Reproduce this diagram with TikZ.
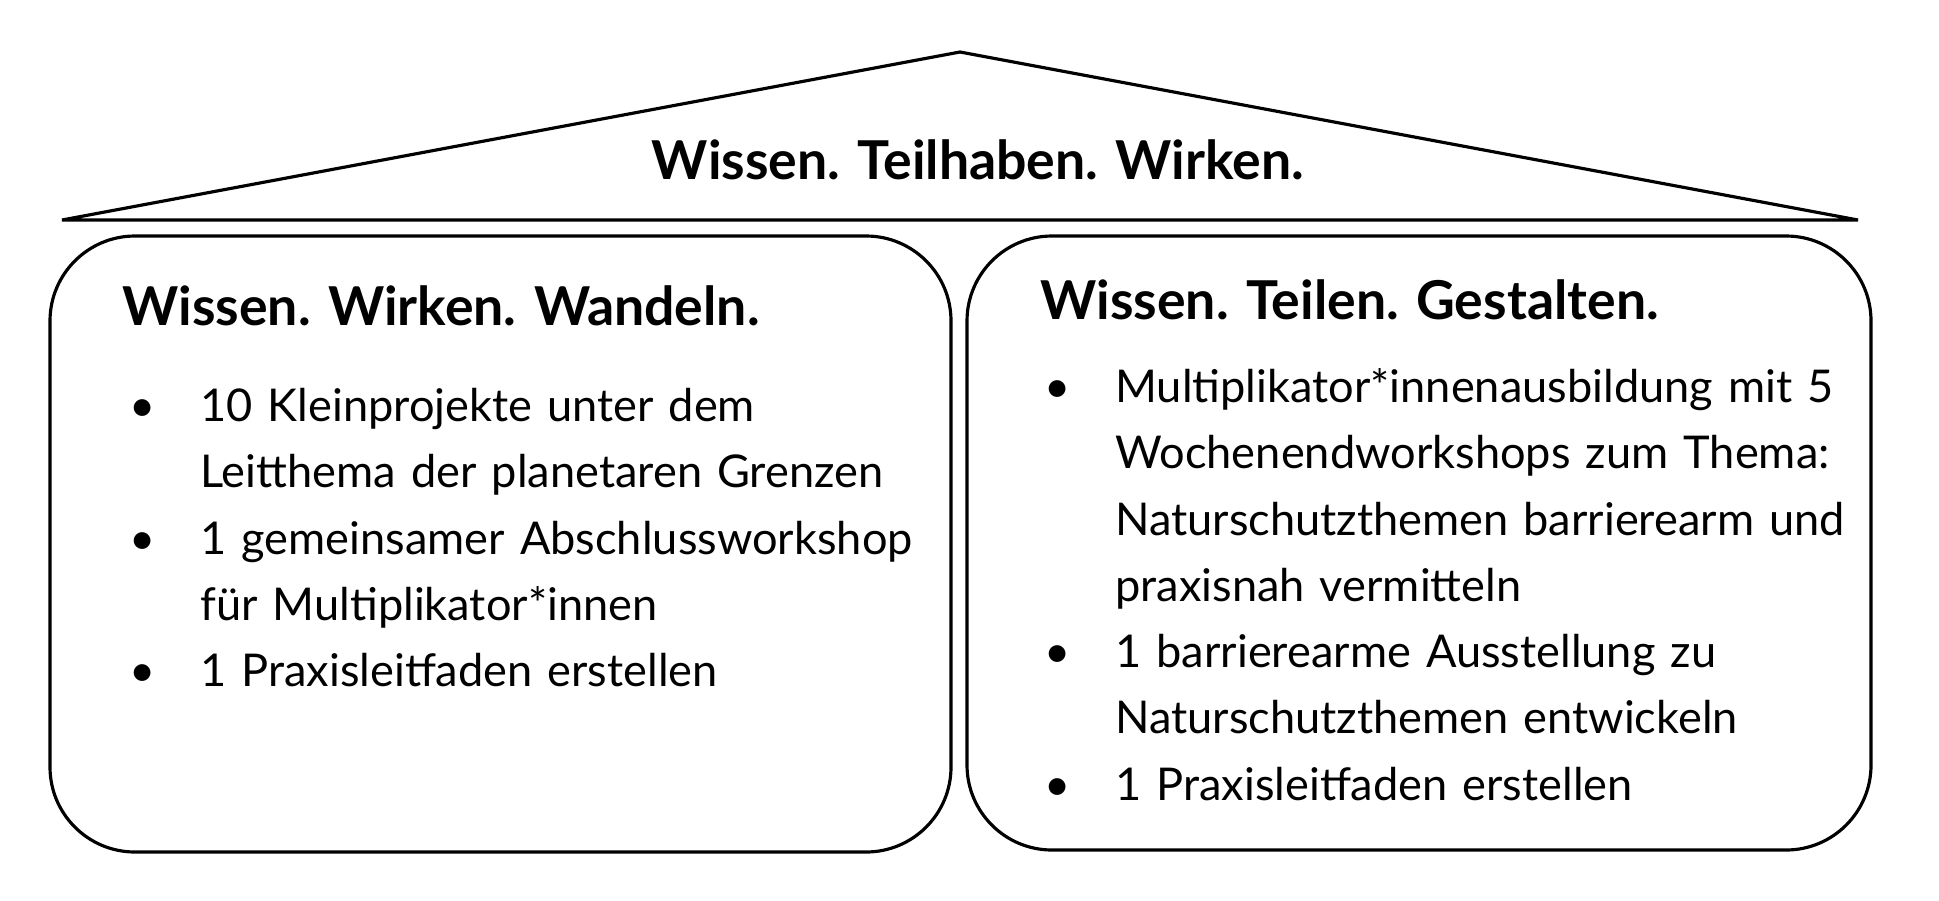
\documentclass[tikz,border=0pt]{standalone}
\usepackage{fontspec}
\setmainfont{Lato}
\usetikzlibrary{positioning}
\setlength{\parindent}{0pt}

% Schriften
\newcommand{\boxfont}{\fontsize{25.7}{37.7}\selectfont}
\newcommand{\headfont}{\fontsize{30.5}{36}\selectfont\bfseries}

% Aufzaehlung in den Kaesten
\newenvironment{punkte}{\begin{list}{\textbullet}{%
    \setlength{\itemsep}{0pt}\setlength{\parsep}{0pt}%
    \setlength{\topsep}{0pt}\setlength{\partopsep}{0pt}%
    \setlength{\itemindent}{0pt}\setlength{\listparindent}{0pt}%
    \setlength{\leftmargin}{1.5cm}\setlength{\labelwidth}{0.6cm}%
    \setlength{\labelsep}{0.9cm}}}{\end{list}}

\begin{document}
\begin{tikzpicture}[x=0.02cm,y=-0.02cm,
    rahmen/.style={line width=1.8pt, rounded corners=1.7cm},
    kopf/.style={font=\headfont, anchor=base west, inner sep=0pt},
    liste/.style={font=\boxfont, text width=17cm, align=left, anchor=north west, inner sep=0pt}]

    \useasboundingbox (0,0) rectangle (1939,900);

    % Dach
    \draw[line width=1.8pt] (62,220) -- (960,52) -- (1858,220) -- cycle;
    \node[font=\headfont] (dach) at (978,160) {Wissen. Teilhaben. Wirken.};

    % linker Kasten
    \draw[rahmen] (50,236) rectangle (951,852);
    \node[kopf] (wwk) at (122,325) {Wissen. Wirken. Wandeln.};
    \node[liste] (wwkListe) at (125,355) {\begin{punkte}%
        \item 10 Kleinprojekte unter dem\newline Leitthema der planetaren Grenzen
        \item 1 gemeinsamer Abschlussworkshop\newline f\"ur Multiplikator*innen
        \item 1 Praxisleitfaden erstellen
    \end{punkte}};

    % rechter Kasten
    \draw[rahmen] (967,236) rectangle (1871,850);
    \node[kopf] (wtg) at (1040,319) {Wissen. Teilen. Gestalten.};
    \node[liste] (wtgListe) at (1040,336) {\begin{punkte}%
        \item Multiplikator*innenausbildung mit 5\newline Wochenendworkshops zum Thema:\newline Naturschutzthemen barrierearm und\newline praxisnah vermitteln
        \item 1 barrierearme Ausstellung zu\newline Naturschutzthemen entwickeln
        \item 1 Praxisleitfaden erstellen
    \end{punkte}};

\end{tikzpicture}
\end{document}
